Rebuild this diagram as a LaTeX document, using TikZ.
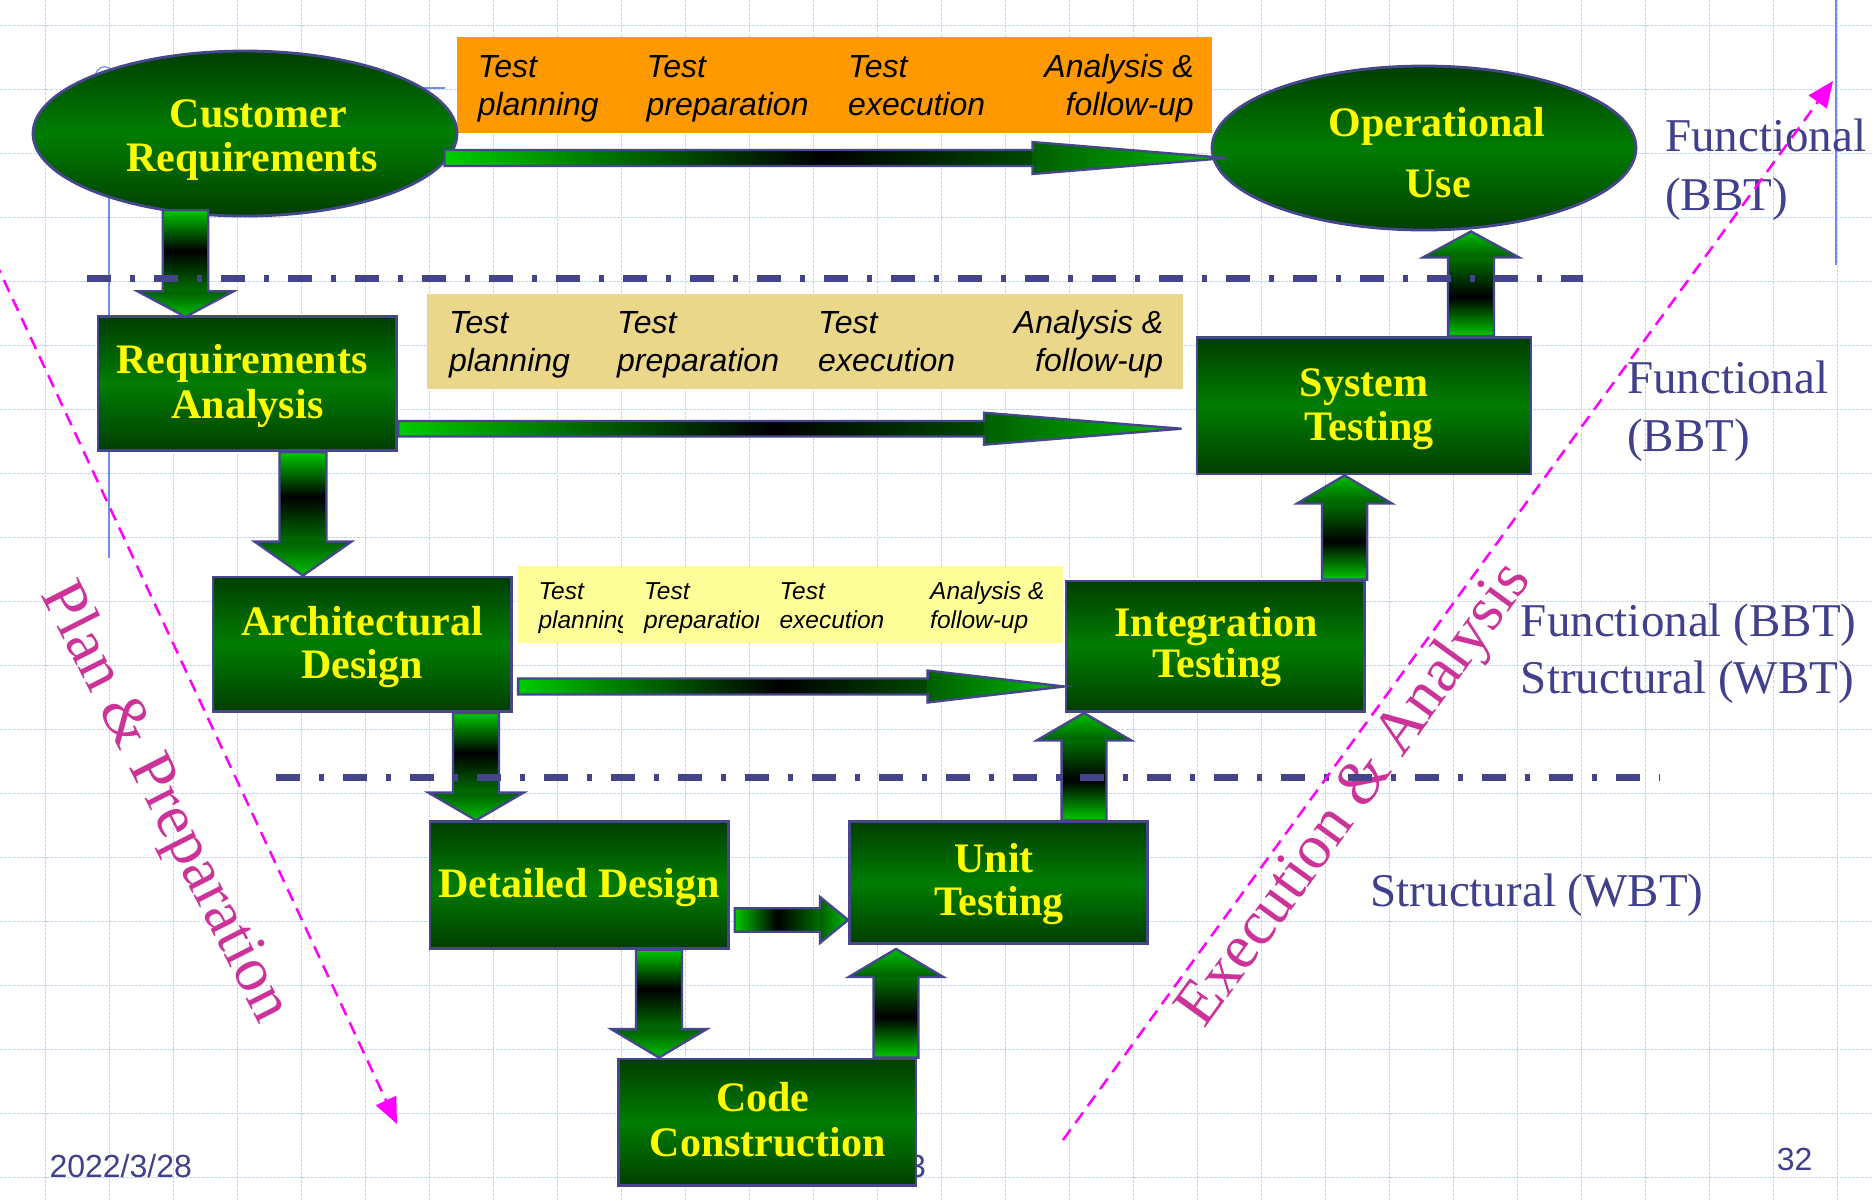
\documentclass[tikz,border=0pt]{standalone}
\usepackage{fontspec}
\setmainfont{Liberation Serif}
\newfontfamily\arialf{Liberation Sans}
\usetikzlibrary{shapes.geometric,calc,arrows.meta}
\definecolor{outl}{RGB}{70,70,140}
\definecolor{dashc}{RGB}{68,68,140}
\definecolor{bxdark}{RGB}{0,62,0}
\definecolor{bxmid}{RGB}{0,125,0}
\definecolor{sgA}{RGB}{0,200,0}
\definecolor{sgC}{RGB}{0,110,0}
\definecolor{hdA}{RGB}{0,95,0}
\definecolor{hdB}{RGB}{0,190,0}
\definecolor{lgA}{RGB}{0,204,0}
\definecolor{lgB}{RGB}{0,100,0}
\definecolor{lgD}{RGB}{0,72,0}
\definecolor{txtyel}{RGB}{255,255,0}
\definecolor{labc}{RGB}{64,64,140}
\definecolor{magl}{RGB}{255,0,255}
\definecolor{magt}{RGB}{204,51,153}
\definecolor{orangeb}{RGB}{255,153,0}
\definecolor{tanb}{RGB}{235,215,138}
\definecolor{yelb}{RGB}{255,255,153}
\definecolor{gridc}{RGB}{198,210,248}
\definecolor{thinb}{RGB}{110,140,235}

% block arrow: #1 tail, #2 tip, #3 shaft half width, #4 head half width, #5 head length, #6 shaft shading, #7 head shading
\newcommand\blockarr[7]{%
  \coordinate (hb) at ($#2!#5pt!#1$);
  \coordinate (s1) at ($#1!#3pt!90:#2$);
  \coordinate (s4) at ($#1!#3pt!-90:#2$);
  \coordinate (s2) at ($(hb)!#3pt!90:#2$);
  \coordinate (s3) at ($(hb)!#3pt!-90:#2$);
  \coordinate (h1) at ($(hb)!#4pt!90:#2$);
  \coordinate (h2) at ($(hb)!#4pt!-90:#2$);
  \shade[#6] (s1)--(s2)--(s3)--(s4)--cycle;
  \shade[#7] (h1)--#2--(h2)--cycle;
  \draw[arrline] (s1)--(s2)--(h1)--#2--(h2)--(s3)--(s4)--cycle;
}
% long thin arrow to the right
\newcommand\longarr[5]{%
  \coordinate (hb) at ($#2!#5pt!#1$);
  \coordinate (mm) at ($#1!0.64!(hb)$);
  \coordinate (s1) at ($#1!#3pt!90:#2$);
  \coordinate (s4) at ($#1!#3pt!-90:#2$);
  \coordinate (m1) at ($(mm)!#3pt!90:#2$);
  \coordinate (m2) at ($(mm)!#3pt!-90:#2$);
  \coordinate (s2) at ($(hb)!#3pt!90:#2$);
  \coordinate (s3) at ($(hb)!#3pt!-90:#2$);
  \coordinate (h1) at ($(hb)!#4pt!90:#2$);
  \coordinate (h2) at ($(hb)!#4pt!-90:#2$);
  \shade[left color=lgA, right color=black, middle color=lgB] (s1)--(m1)--(m2)--(s4)--cycle;
  \shade[left color=black, right color=lgD] (m1)--(s2)--(s3)--(m2)--cycle;
  \shade[left color=hdA, right color=hdB] (h1)--#2--(h2)--cycle;
  \draw[arrline] (s1)--(s2)--(h1)--#2--(h2)--(s3)--(s4)--cycle;
}

\begin{document}
\begin{tikzpicture}[x=1pt,y=-1pt,
  gridl/.style={draw=gridc, line width=1pt, dash pattern=on 3pt off 1.2pt},
  thinl/.style={draw=thinb, line width=1.2pt},
  gbox/.style={draw=outl, line width=2.8pt, top color=bxdark, bottom color=bxdark, middle color=bxmid, inner sep=0pt},
  arrline/.style={draw=outl, line width=2.3pt, line join=miter},
  shdown/.style={top color=sgA, bottom color=sgC, middle color=black},
  shup/.style={bottom color=sgA, top color=sgC, middle color=black},
  shright/.style={left color=sgA, right color=sgC, middle color=black},
  hddown/.style={top color=hdA, bottom color=hdB},
  hdup/.style={bottom color=hdA, top color=hdB},
  hdright/.style={left color=hdA, right color=hdB},
  bxt/.style={text=txtyel, font=\bfseries\fontsize{42}{44}\selectfont, anchor=base, inner sep=0pt},
  itl/.style={font=\arialf\itshape\fontsize{32}{38}\selectfont, inner sep=0pt, anchor=base west},
  itr/.style={font=\arialf\itshape\fontsize{32}{38}\selectfont, inner sep=0pt, anchor=base east},
  its/.style={font=\arialf\itshape\fontsize{24.5}{28}\selectfont, inner sep=0pt, anchor=base west},
  lab/.style={text=labc, font=\fontsize{47}{50}\selectfont, inner sep=0pt, anchor=base west},
  rot/.style={text=magt, font=\fontsize{63}{66}\selectfont, inner sep=0pt},
  foot/.style={text=labc, font=\arialf\fontsize{32}{36}\selectfont, inner sep=0pt},
  ddl/.style={draw=dashc, line width=6.5pt, dash pattern=on 24pt off 19pt on 5pt off 19pt},
  mag/.style={draw=magl, line width=2.5pt, dash pattern=on 13pt off 8pt, -{Triangle[length=26pt,width=22pt]}}
]
\useasboundingbox (0,0) rectangle (1872,1200);
\fill[white] (0,0) rectangle (1872,1200);
% background grid
\foreach \i in {0,...,28} \draw[gridl] ({45+64*\i},0) -- ({45+64*\i},1200);
\foreach \j in {0,...,18} \draw[gridl] (0,{25+64*\j}) -- (1872,{25+64*\j});
% faint placeholder lines
\draw[thinl] (109,72) -- (109,558);
\draw[thinl] (95,76) .. controls (97,67) and (104,65) .. (110,68);
\draw[thinl] (423,88) -- (445,88);
\draw[thinl] (1836,0) -- (1836,265);

% phase bands
\node[fill=orangeb, minimum width=755pt, minimum height=95.7pt, inner sep=0pt] (ob) at (834.5,84.85) {};
\node[fill=tanb, minimum width=755.7pt, minimum height=95.3pt, inner sep=0pt] (tb) at (804.85,341.65) {};
\node[fill=yelb, minimum width=545pt, minimum height=77pt, inner sep=0pt] (yb) at (790.5,604.5) {};

% orange texts
\node[itl] (o1a) at (477.6,77.6) {Test};
\node[itl] (o1b) at (477.6,115.8) {planning};
\node[itl] (o2a) at (646.5,77.6) {Test};
\node[itl] (o2b) at (646.5,115.8) {preparation};
\node[itl] (o3a) at (848,77.6) {Test};
\node[itl] (o3b) at (848,115.8) {execution};
\node[itr] (o4a) at (1194,77.6) {Analysis \&};
\node[itr] (o4b) at (1194,115.8) {follow-up};
% tan texts
\node[itl] (t1a) at (448.8,333.5) {Test};
\node[itl] (t1b) at (448.8,371.7) {planning};
\node[itl] (t2a) at (617,333.5) {Test};
\node[itl] (t2b) at (617,371.7) {preparation};
\node[itl] (t3a) at (818,333.5) {Test};
\node[itl] (t3b) at (818,371.7) {execution};
\node[itr] (t4a) at (1163.5,333.5) {Analysis \&};
\node[itr] (t4b) at (1163.5,371.7) {follow-up};
% yellow texts (clipped as in the slide)
\begin{scope}
  \clip (518,560) rectangle (622.7,650);
  \node[its] (y1a) at (538.3,599.3) {Test};
  \node[its] (y1b) at (538.3,628.3) {planning};
\end{scope}
\begin{scope}
  \clip (622.7,560) rectangle (758.3,650);
  \node[its] (y2a) at (644,599.3) {Test};
  \node[its] (y2b) at (644,628.3) {preparation};
\end{scope}
\node[its] (y3a) at (779.3,599.3) {Test};
\node[its] (y3b) at (779.3,628.3) {execution};
\node[its] (y4a) at (930,599.3) {Analysis \&};
\node[its] (y4b) at (930,628.3) {follow-up};

% footer page text partly hidden
\node[foot, anchor=base east] (pg3) at (926,1177) {3};

% main nodes
\node[gbox, ellipse, minimum width=424pt, minimum height=165pt] (cr) at (245,133.5) {};
\node[gbox, ellipse, minimum width=424pt, minimum height=164pt] (ou) at (1424,148) {};
\node[gbox, minimum width=298.7pt, minimum height=134pt] (ra) at (247.35,383.7) {};
\node[gbox, minimum width=334pt, minimum height=136.3pt] (st) at (1364,405.85) {};
\node[gbox, minimum width=298.7pt, minimum height=134.6pt] (ad) at (362.35,644.3) {};
\node[gbox, minimum width=298.7pt, minimum height=130.6pt] (it) at (1215.35,646.3) {};
\node[gbox, minimum width=298.5pt, minimum height=126.5pt] (dd) at (579.25,884.95) {};
\node[gbox, minimum width=298.3pt, minimum height=121.8pt] (ut) at (998.65,882.6) {};
\node[gbox, minimum width=297.7pt, minimum height=126.7pt] (cc) at (767.15,1122.35) {};

% node texts
\node[bxt] (cr1) at (258.5,127) {Customer};
\node[bxt] (cr2) at (252,171) {Requirements};
\node[bxt] (ou1) at (1437,136) {Operational};
\node[bxt] (ou2) at (1438,197.3) {Use};
\node[bxt] (ra1) at (242,373) {Requirements};
\node[bxt] (ra2) at (247.5,418) {Analysis};
\node[bxt] (st1) at (1364,396.7) {System};
\node[bxt] (st2) at (1369,440.7) {Testing};
\node[bxt] (ad1) at (362,635) {Architectural};
\node[bxt] (ad2) at (362,678) {Design};
\node[bxt] (it1) at (1216,636) {Integration};
\node[bxt] (it2) at (1217,677) {Testing};
\node[bxt] (dd1) at (579,897.4) {Detailed Design};
\node[bxt] (ut1) at (994,872) {Unit};
\node[bxt] (ut2) at (999,915.8) {Testing};
\node[bxt] (cc1) at (762.7,1111.7) {Code};
\node[bxt] (cc2) at (767.7,1156.7) {Construction};

% connector end points
\coordinate (a1t) at ($(cr.east)+(-14,24.5)$);
\coordinate (a1h) at ($(ou.west)+(16,10)$);
\coordinate (a2t) at ($(ra.east)+(0,45)$);
\coordinate (a2h) at ($(st.west)+(-14,22.85)$);
\coordinate (a3t) at ($(ad.east)+(5,42.2)$);
\coordinate (a3h) at ($(it.west)+(0,40.2)$);
\coordinate (b1t) at ($(cr.south)+(-59.5,-7.5)$);
\coordinate (b1h) at ($(b1t |- ra.north)+(0,1.5)$);
\coordinate (b2t) at ($(ra.south)+(55.65,0)$);
\coordinate (b2h) at (b2t |- ad.north);
\coordinate (b3t) at ($(ad.south)+(113.65,0)$);
\coordinate (b3h) at (b3t |- dd.north);
\coordinate (b4t) at ($(dd.south)+(79.75,0)$);
\coordinate (b4h) at (b4t |- cc.north);
\coordinate (b5t) at ($(cc.north)+(128.85,0)$);
\coordinate (b5h) at ($(b5t |- ut.south)+(0,4)$);
\coordinate (b6t) at ($(ut.north)+(85.35,0)$);
\coordinate (b6h) at (b6t |- it.south);
\coordinate (b7t) at ($(it.north)+(129.15,0)$);
\coordinate (b7h) at (b7t |- st.south);
\coordinate (b8t) at ($(st.north)+(107,0)$);
\coordinate (b8h) at (b8t |- ou.south);
\coordinate (b9t) at ($(dd.east)+(4.8,35)$);
\coordinate (b9h) at (b9t -| ut.west);

% connectors
\longarr{(a1t)}{(a1h)}{8}{16}{194}
\longarr{(a2t)}{(a2h)}{7.7}{16}{197.5}
\longarr{(a3t)}{(a3h)}{8}{16}{137}
\blockarr{(b1t)}{(b1h)}{22.8}{48}{25.5}{shdown}{hddown}
\blockarr{(b2t)}{(b2h)}{23.5}{48.5}{34}{shdown}{hddown}
\blockarr{(b3t)}{(b3h)}{23}{47.7}{27.7}{shdown}{hddown}
\blockarr{(b4t)}{(b4h)}{23}{47.8}{28.5}{shdown}{hddown}
\blockarr{(b5t)}{(b5h)}{22.5}{47.2}{28}{shup}{hdup}
\blockarr{(b6t)}{(b6h)}{22.4}{47.3}{27.4}{shup}{hdup}
\blockarr{(b7t)}{(b7h)}{22.6}{47.3}{28}{shup}{hdup}
\blockarr{(b8t)}{(b8h)}{23}{48}{26}{shup}{hdup}
\blockarr{(b9t)}{(b9h)}{11.7}{23}{28}{shright}{hdright}

% side labels
\node[lab] (l1a) at (1665,151.7) {Functional};
\node[lab] (l1b) at (1665,210) {(BBT)};
\node[lab] (l2a) at (1627,393.3) {Functional};
\node[lab] (l2b) at (1627,451.7) {(BBT)};
\node[lab] (l3a) at (1520.7,636) {Functional (BBT)};
\node[lab] (l3b) at (1520.7,693) {Structural (WBT)};
\node[lab] (l4) at (1370.5,906.6) {Structural (WBT)};

% footer
\node[foot, anchor=base west] (date) at (49.3,1177.7) {2022/3/28};
\node[foot, anchor=base west] (pgno) at (1776.7,1170) {32};

% phase captions
\node[rot, rotate=-63] (pp) at (164,803) {Plan \& Preparation};
\node[rot, rotate=54] (ea) at (1356,796) {Execution \& Analysis};

% level separators
\coordinate (d1s) at (87,278.3);
\coordinate (d1e) at (1583,278.3);
\coordinate (d2s) at (275.5,777.3);
\coordinate (d2e) at (1659,777.3);
\draw[ddl] (d1s) -- (d1e);
\draw[ddl] (d2s) -- (d2e);

% phase direction arrows
\coordinate (m1s) at (-5,261);
\coordinate (m1e) at (397,1124);
\coordinate (m2s) at (1063,1140);
\coordinate (m2e) at (1833,81);
\draw[mag] (m1s) -- (m1e);
\draw[mag] (m2s) -- (m2e);
\end{tikzpicture}
\end{document}
